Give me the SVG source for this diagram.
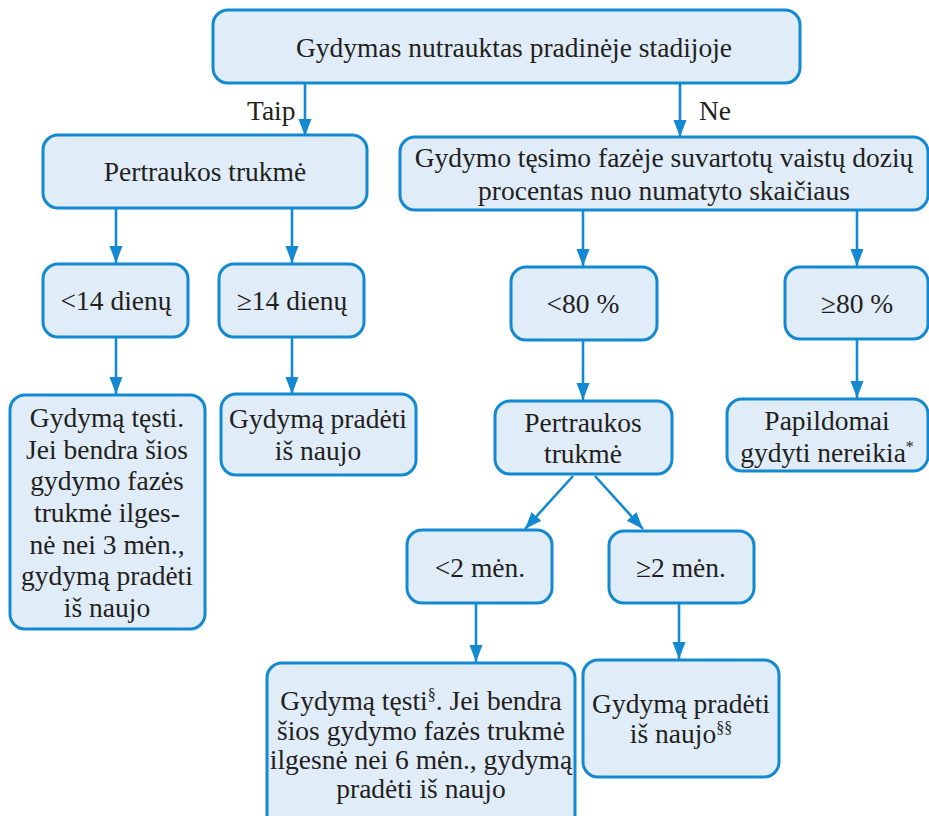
<svg xmlns="http://www.w3.org/2000/svg" width="929" height="816" viewBox="0 0 929 816">
<defs>
<marker id="ah" markerUnits="userSpaceOnUse" markerWidth="18" markerHeight="14" refX="17" refY="6.5" orient="auto">
<path d="M0,0 L17,6.5 L0,13 z" fill="#1289d1"/>
</marker>
</defs>
<rect width="929" height="816" fill="#ffffff"/>
<g id="connectors" stroke="#1289d1" stroke-width="2.6" fill="none" marker-end="url(#ah)">
<path d="M305,83 V136"/>
<path d="M680,83 V137"/>
<path d="M116,208 V263"/>
<path d="M292,208 V263"/>
<path d="M116,337 V394"/>
<path d="M292,337 V394"/>
<path d="M583,210 V266"/>
<path d="M857,210 V266"/>
<path d="M583,340 V400"/>
<path d="M857,339 V398"/>
<path d="M573,476 L525,529"/>
<path d="M595,476 L643,529"/>
<path d="M476,603 V662"/>
<path d="M679,603 V659"/>
</g>
<g font-family="Liberation Serif" font-size="27.5" fill="#231f20">
<g id="labels">
<text x="247" y="120" style="font-family:'Liberation Serif',serif">Taip</text>
<text x="699" y="120" style="font-family:'Liberation Serif',serif">Ne</text>
</g>
<g id="n-top">
<rect x="213" y="10" width="587" height="73" rx="15" fill="#e0ecf8" stroke="#1289d1" stroke-width="3"/>
<text x="514" y="57" text-anchor="middle" style="font-family:'Liberation Serif',serif">Gydymas nutrauktas pradinėje stadijoje</text>
</g>
<g id="n-pertrauka1">
<rect x="43" y="135" width="324" height="73" rx="15" fill="#e0ecf8" stroke="#1289d1" stroke-width="3"/>
<text x="205" y="181" text-anchor="middle" style="font-family:'Liberation Serif',serif">Pertraukos trukmė</text>
</g>
<g id="n-procentas">
<rect x="400" y="137" width="528" height="73" rx="15" fill="#e0ecf8" stroke="#1289d1" stroke-width="3"/>
<text x="664" y="167" text-anchor="middle" style="font-family:'Liberation Serif',serif">Gydymo tęsimo fazėje suvartotų vaistų dozių</text>
<text x="664" y="200" text-anchor="middle" style="font-family:'Liberation Serif',serif">procentas nuo numatyto skaičiaus</text>
</g>
<g id="n-lt14">
<rect x="43" y="264" width="145" height="73" rx="15" fill="#e0ecf8" stroke="#1289d1" stroke-width="3"/>
<text x="116" y="310" text-anchor="middle" style="font-family:'Liberation Serif',serif">&lt;14 dienų</text>
</g>
<g id="n-ge14">
<rect x="219" y="264" width="145" height="73" rx="15" fill="#e0ecf8" stroke="#1289d1" stroke-width="3"/>
<text x="292" y="310" text-anchor="middle" style="font-family:'Liberation Serif',serif">≥14 dienų</text>
</g>
<g id="n-testi1">
<rect x="10" y="395" width="195" height="234" rx="15" fill="#e0ecf8" stroke="#1289d1" stroke-width="3"/>
<text x="107" y="427" text-anchor="middle" style="font-family:'Liberation Serif',serif">Gydymą tęsti.</text>
<text x="107" y="459" text-anchor="middle" style="font-family:'Liberation Serif',serif">Jei bendra šios</text>
<text x="107" y="490" text-anchor="middle" style="font-family:'Liberation Serif',serif">gydymo fazės</text>
<text x="107" y="522" text-anchor="middle" style="font-family:'Liberation Serif',serif">trukmė ilges-</text>
<text x="107" y="554" text-anchor="middle" style="font-family:'Liberation Serif',serif">nė nei 3 mėn.,</text>
<text x="107" y="585" text-anchor="middle" style="font-family:'Liberation Serif',serif">gydymą pradėti</text>
<text x="107" y="617" text-anchor="middle" style="font-family:'Liberation Serif',serif">iš naujo</text>
</g>
<g id="n-pradeti1">
<rect x="221" y="394" width="195" height="81" rx="15" fill="#e0ecf8" stroke="#1289d1" stroke-width="3"/>
<text x="318" y="428" text-anchor="middle" style="font-family:'Liberation Serif',serif">Gydymą pradėti</text>
<text x="318" y="460" text-anchor="middle" style="font-family:'Liberation Serif',serif">iš naujo</text>
</g>
<g id="n-lt80">
<rect x="511" y="267" width="146" height="73" rx="15" fill="#e0ecf8" stroke="#1289d1" stroke-width="3"/>
<text x="583" y="313" text-anchor="middle" style="font-family:'Liberation Serif',serif">&lt;80 %</text>
</g>
<g id="n-ge80">
<rect x="785" y="267" width="143" height="72" rx="15" fill="#e0ecf8" stroke="#1289d1" stroke-width="3"/>
<text x="857" y="313" text-anchor="middle" style="font-family:'Liberation Serif',serif">≥80 %</text>
</g>
<g id="n-pertrauka2">
<rect x="495" y="401" width="177" height="73" rx="15" fill="#e0ecf8" stroke="#1289d1" stroke-width="3"/>
<text x="583" y="432" text-anchor="middle" style="font-family:'Liberation Serif',serif">Pertraukos</text>
<text x="583" y="463" text-anchor="middle" style="font-family:'Liberation Serif',serif">trukmė</text>
</g>
<g id="n-papildomai">
<rect x="727" y="399" width="201" height="72" rx="15" fill="#e0ecf8" stroke="#1289d1" stroke-width="3"/>
<text x="827" y="430" text-anchor="middle" style="font-family:'Liberation Serif',serif">Papildomai</text>
<text x="827" y="462" text-anchor="middle" style="font-family:'Liberation Serif',serif">gydyti nereikia<tspan font-size="16" dy="-10">*</tspan></text>
</g>
<g id="n-lt2">
<rect x="407" y="530" width="145" height="73" rx="15" fill="#e0ecf8" stroke="#1289d1" stroke-width="3"/>
<text x="480" y="577" text-anchor="middle" style="font-family:'Liberation Serif',serif">&lt;2 mėn.</text>
</g>
<g id="n-ge2">
<rect x="609" y="531" width="145" height="72" rx="15" fill="#e0ecf8" stroke="#1289d1" stroke-width="3"/>
<text x="681" y="577" text-anchor="middle" style="font-family:'Liberation Serif',serif">≥2 mėn.</text>
</g>
<g id="n-testi2">
<rect x="267" y="663" width="308" height="170" rx="15" fill="#e0ecf8" stroke="#1289d1" stroke-width="3"/>
<text x="421" y="710" text-anchor="middle" style="font-family:'Liberation Serif',serif">Gydymą tęsti<tspan font-size="16" dy="-10">§</tspan><tspan dy="10">. Jei bendra</tspan></text>
<text x="421" y="740" text-anchor="middle" style="font-family:'Liberation Serif',serif">šios gydymo fazės trukmė</text>
<text x="421" y="769" text-anchor="middle" style="font-family:'Liberation Serif',serif">ilgesnė nei 6 mėn., gydymą</text>
<text x="421" y="798" text-anchor="middle" style="font-family:'Liberation Serif',serif">pradėti iš naujo</text>
</g>
<g id="n-pradeti2">
<rect x="583" y="660" width="196" height="117" rx="15" fill="#e0ecf8" stroke="#1289d1" stroke-width="3"/>
<text x="681" y="713" text-anchor="middle" style="font-family:'Liberation Serif',serif">Gydymą pradėti</text>
<text x="681" y="743" text-anchor="middle" style="font-family:'Liberation Serif',serif">iš naujo<tspan font-size="16" dy="-10">§§</tspan></text>
</g>
</g>
</svg>
